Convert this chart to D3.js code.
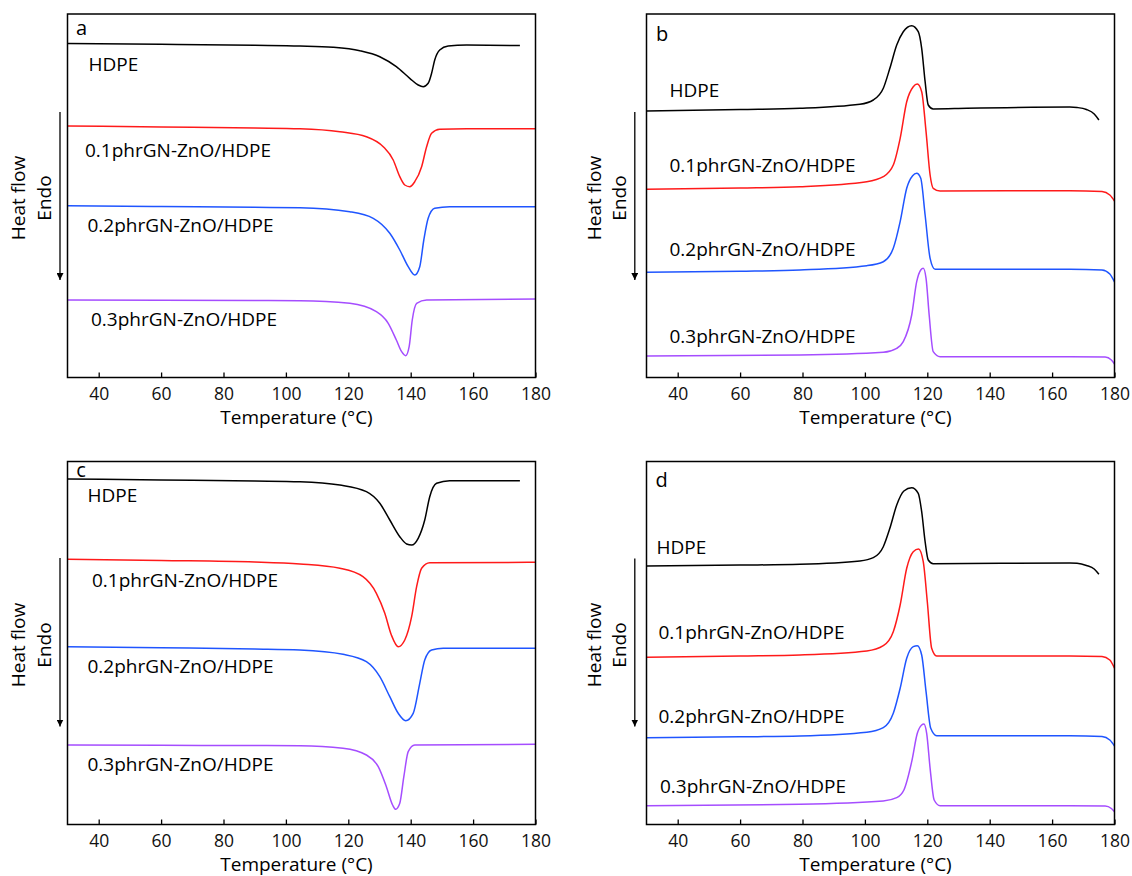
<!DOCTYPE html>
<html>
<head>
<meta charset="utf-8">
<script src="https://cdn.jsdelivr.net/npm/d3@7"></script>
<style>
  body { margin: 0; background: #fff; }
  svg { display: block; font-family: "Open Sans", "Noto Sans", sans-serif; }
</style>
</head>
<body>
<svg id="chart" width="1132" height="876"></svg>
<script>
// tick labels on the temperature axis
var xTicks = [40, 60, 80, 100, 120, 140, 160, 180];
var sampleNames = ["HDPE", "0.1phrGN-ZnO/HDPE", "0.2phrGN-ZnO/HDPE", "0.3phrGN-ZnO/HDPE"];
var sampleColors = ["#000000", "#ff1a1a", "#1f55ff", "#a54dff"];

// heat flow (a.u., endo down), [temperature, value]
// panel a
var aHDPE = [[30,29.5],[60,30.3],[90,31.3],[104.5,32],[115.1,33.3],[123.7,36.7],[130.1,42.7],[135.4,52.7],[139.7,64.3],[142.4,71],[144,72.7],[145.6,69.3],[146.7,59.3],[147.7,46],[149.3,36],[152,32],[157.9,31],[175,31.5]];
var aGN01 = [[30,112],[60,113],[90,114],[104.5,114.7],[117.3,117.7],[125.8,122.7],[131.2,132.7],[134.4,146],[136.5,162.7],[138.1,171],[139.7,172.7],[141.3,167.7],[143.5,152.7],[145.1,132.7],[146.7,119.3],[149.3,115.3],[157.9,114.7],[180,114.7]];
var aGN02 = [[30,191.7],[60,192.5],[90,193.3],[104.5,193.7],[120.5,197.7],[128,204.3],[133.3,219.3],[136.5,236],[139.2,252.7],[141.3,261],[142.9,252.7],[144.2,226],[145.6,204.3],[147.7,194.3],[152.5,192.7],[180,192.7]];
var aGN03 = [[30,286],[60,286.2],[90,286.5],[104.5,286.7],[120.5,289.3],[129,297.7],[132.8,309.3],[135.4,326],[137.1,337.7],[138.4,341.7],[139.5,332.7],[140.5,306],[141.9,289.3],[145.1,286],[180,285]];
// panel b
var bHDPE = [[30,97],[60,95.5],[79.2,94.3],[98.4,90.3],[102.7,86],[105.9,74.3],[108,54.3],[110.2,31],[112.3,17.7],[115,11.7],[117.1,17.7],[118.2,34.3],[119.3,67.7],[120.3,91],[121.9,95],[132.6,94.3],[165.7,93],[168,93.5],[171,95.5],[173.5,100],[175,106]];
var bGN01 = [[30,175.3],[60,174],[79.2,172.7],[100.6,167.7],[105.9,162.7],[109.1,151],[111.3,124.3],[113.4,87.7],[115.5,72.7],[116.8,70],[118.2,77.7],[119.6,117.7],[120.9,161],[121.9,174.3],[124.1,177],[165.7,176.7],[176,177.5],[178.5,181],[180,187]];
var bGN02 = [[30,258.3],[60,257.3],[79.2,256],[100.6,251.7],[105.9,247.7],[109.1,234.3],[111.3,207.7],[113.4,174.3],[115.3,161.7],[116.6,159.3],[117.9,164.3],[119.3,201],[120.9,244.3],[122.5,255.3],[165.7,255.3],[176,256],[178.5,260],[180,268]];
var bGN03 = [[30,342],[79.2,341],[105.9,338.3],[110.2,334.3],[112.3,327.7],[115,301],[116.6,267.7],[117.9,256],[118.7,254.3],[119.6,264.3],[120.6,301],[121.9,337.7],[124.1,342.7],[165.7,342.7],[177,343],[179,346],[180,350]];
// panel c
var cHDPE = [[30,17.5],[60,18.5],[90,19.5],[104.5,20.2],[117.3,23.5],[125.8,30.2],[130.1,41.8],[133.3,58.5],[136.5,75.2],[138.7,82.5],[140.3,83.5],[142.4,76.8],[144.5,58.5],[146.1,35.2],[148.3,21.8],[152.5,19.2],[175,19.2]];
var cGN01 = [[30,97.8],[60,99],[90,100.5],[104.5,102.5],[117.3,106.8],[124.7,115.2],[129,131.8],[131.7,151.8],[133.8,173.5],[136,185.2],[138.1,178.5],[140.3,155.2],[141.9,125.2],[143.5,106.8],[146.1,101.2],[180,100.8]];
var cGN02 = [[30,185.2],[60,186.3],[90,187.5],[104.5,188.5],[118.3,192.8],[125.8,200.2],[130.1,215.2],[133.3,235.2],[136,251.8],[138.4,259.2],[140.8,251.8],[142.9,221.8],[144.5,198.5],[146.7,188.5],[150.4,186.8],[180,186.8]];
var cGN03 = [[30,283.5],[60,283.8],[90,284],[104.5,284.2],[118.3,286.8],[125.8,293.5],[129.6,305.2],[132.2,325.2],[134.2,343.5],[135.2,347.8],[136.5,341.8],[137.8,315.2],[139.2,290.2],[141.3,283.5],[180,282.8]];
// panel d
var dHDPE = [[30,104.5],[60,103.6],[79.2,102.8],[98.4,99.5],[102.7,96.2],[105.9,85.2],[108,66.8],[110.2,43.5],[112.5,29.5],[115,26.2],[117.1,31.8],[118.2,50.2],[119.3,80.2],[120.3,98.5],[121.9,102.2],[165.7,101.5],[168,101.8],[171,104],[173.5,107.5],[175,112.8]];
var dGN01 = [[30,195.8],[60,194.5],[79.2,193.5],[100.6,189.5],[105.9,184.2],[109.1,170.2],[111.3,143.5],[113.4,106.8],[115.5,90.2],[117.2,87.5],[118.7,100.2],[120,140.2],[121.4,186.8],[123,194.5],[165.7,194.5],[176,195],[178.5,198.5],[180,206.8]];
var dGN02 = [[30,276.2],[60,275.3],[79.2,274.5],[100.6,270.8],[105.9,266.2],[109.1,251.8],[111.3,226.8],[113.4,196.8],[115.5,185.2],[116.8,184.2],[118.2,193.5],[119.6,230.2],[121.1,266.8],[123,274.2],[165.7,274.2],[176,275],[178.5,278.5],[180,284.5]];
var dGN03 = [[30,344.2],[79.2,342.8],[105.9,339.5],[110.2,336.2],[112.5,328.5],[115,300.2],[116.8,271.8],[118.2,263.5],[118.9,262.5],[119.8,271.8],[120.9,306.8],[122.2,338.5],[124.1,344.2],[165.7,344.2],[177,344.5],[179,347],[180,350.2]];

// layout of the four panels (frame position, label offsets)
var panels = [
  {letter: "a", left: 67.5, top: 14, h: 363.5, curves: [aHDPE, aGN01, aGN02, aGN03],
   lab: [[21,50],[17.5,136],[20,211],[23.5,305]], let: [14,14], arrowDx: -7.5, hfDx: -49, enDx: -23, arrow: [98,266], axMid: 184},
  {letter: "b", left: 646.5, top: 14, h: 363.5, curves: [bHDPE, bGN01, bGN02, bGN03],
   lab: [[23,76.7],[23,151],[23,235.3],[23,322]], let: [15.5,20], arrowDx: -11.7, hfDx: -52.5, enDx: -27, arrow: [98,266], axMid: 184},
  {letter: "c", left: 67.5, top: 461.5, h: 363, curves: [cHDPE, cGN01, cGN02, cGN03],
   lab: [[20,33.5],[24.5,118.5],[20,205.2],[20,302.5]], let: [13.5,8.5], arrowDx: -7.5, hfDx: -49, enDx: -23, arrow: [96.5,265], axMid: 183.5},
  {letter: "d", left: 646.5, top: 461.5, h: 363, curves: [dHDPE, dGN01, dGN02, dGN03],
   lab: [[10,85.8],[12,171.2],[12,255.2],[13.5,325.2]], let: [15,18.5], arrowDx: -11.7, hfDx: -52.5, enDx: -27, arrow: [97,265], axMid: 183.5}
];

var W = 468;
var svg = d3.select("#chart");

svg.append("defs").append("marker")
  .attr("id", "head")
  .attr("viewBox", "0 0 10 10")
  .attr("refX", 10).attr("refY", 5)
  .attr("markerWidth", 7).attr("markerHeight", 7)
  .attr("markerUnits", "userSpaceOnUse")
  .attr("orient", "auto")
  .append("path").attr("d", "M0,0 L10,5 L0,10 Z").attr("fill", "#000");

panels.forEach(function (p) {
  var x = d3.scaleLinear().domain([30, 180]).range([0, W]);
  var y = d3.scaleLinear().domain([0, p.h]).range([0, p.h]);
  var g = svg.append("g").attr("transform", "translate(" + p.left + "," + p.top + ")");

  var line = d3.line()
    .x(function (d) { return x(d[0]); })
    .y(function (d) { return y(d[1]); })
    .curve(d3.curveMonotoneX);

  p.curves.forEach(function (c, i) {
    g.append("path")
      .datum(c)
      .attr("d", line)
      .attr("fill", "none")
      .attr("stroke", sampleColors[i])
      .attr("stroke-width", 1.5);
  });

  // bottom axis, ticks pointing inward
  var ax = g.append("g")
    .attr("transform", "translate(0," + p.h + ")")
    .call(d3.axisBottom(x).tickValues(xTicks).tickSizeInner(-5).tickSizeOuter(0).tickPadding(10));
  ax.select(".domain").remove();
  ax.selectAll("line").attr("stroke", "#000").attr("stroke-width", 1.3);
  ax.selectAll("text")
    .attr("y", 16).attr("dy", "0.35em")
    .style("font-size", "17.5px").style("font-family", "'Open Sans', sans-serif")
    .attr("fill", "#111");

  g.append("rect")
    .attr("width", W).attr("height", p.h)
    .attr("fill", "none").attr("stroke", "#000").attr("stroke-width", 1.5);

  g.append("text")
    .attr("x", W / 2 - 5).attr("y", p.h + 40).attr("dy", "0.35em")
    .attr("text-anchor", "middle")
    .style("font-size", "19px")
    .text("Temperature (°C)");

  g.append("text")
    .attr("x", p.let[0]).attr("y", p.let[1]).attr("dy", "0.35em")
    .attr("text-anchor", "middle")
    .style("font-size", "20px")
    .text(p.letter);

  p.lab.forEach(function (l, i) {
    g.append("text")
      .attr("x", l[0]).attr("y", l[1]).attr("dy", "0.35em")
      .style("font-size", "19px")
      .text(sampleNames[i]);
  });

  // heat flow arrow and rotated labels
  g.append("line")
    .attr("x1", p.arrowDx).attr("x2", p.arrowDx)
    .attr("y1", p.arrow[0]).attr("y2", p.arrow[1])
    .attr("stroke", "#000").attr("stroke-width", 1.3)
    .attr("marker-end", "url(#head)");

  g.append("text")
    .attr("transform", "translate(" + p.hfDx + "," + p.axMid + ") rotate(-90)")
    .attr("text-anchor", "middle").attr("dy", "0.35em")
    .style("font-size", "19px")
    .text("Heat flow");
  g.append("text")
    .attr("transform", "translate(" + p.enDx + "," + p.axMid + ") rotate(-90)")
    .attr("text-anchor", "middle").attr("dy", "0.35em")
    .style("font-size", "19px")
    .text("Endo");
});
</script>
</body>
</html>
